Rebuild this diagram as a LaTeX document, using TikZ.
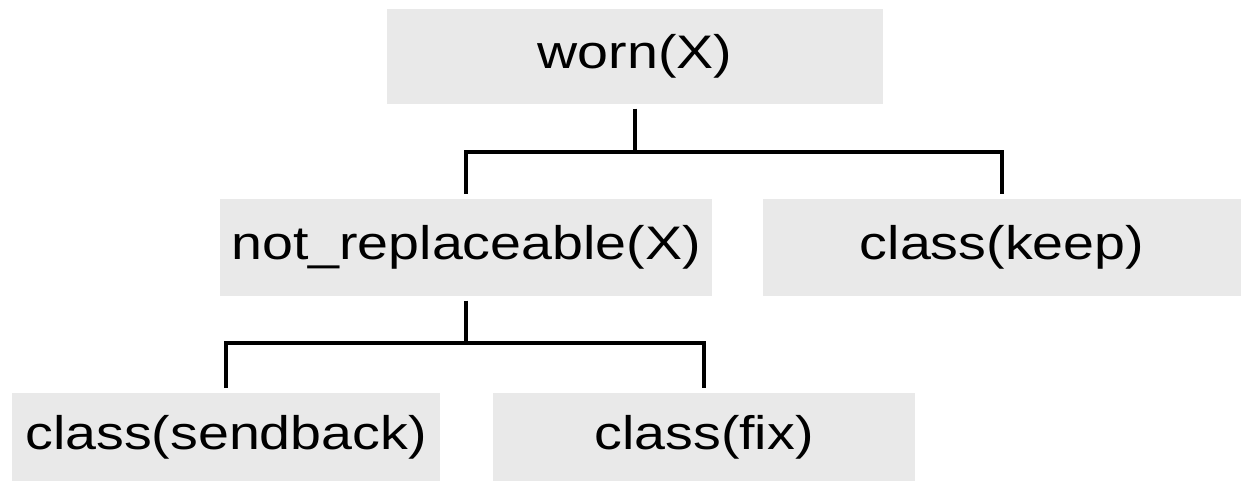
\documentclass[tikz,border=0pt]{standalone}
\usepackage{fontspec}
\usepackage{tikz}
\usetikzlibrary{positioning}
\newfontfamily\boxfont[FakeStretch=1.18]{Liberation Sans}
\definecolor{boxgray}{RGB}{233,233,233}

\begin{document}
\begin{tikzpicture}[x=0.1mm, y=-0.1mm,
		box/.style={rectangle, fill=boxgray, inner sep=0pt, outer sep=0.5mm,
			font=\boxfont\fontsize{13.4pt}{16pt}\selectfont},
		branch/.style={line width=0.9pt, black}]
		\useasboundingbox (0,0) rectangle (1241,481);

		\node (worn) [box, minimum width=49.6mm, minimum height=9.5mm] at (635,56) {worn(X)};
		\node (notrep) [box, minimum width=49.2mm, minimum height=9.7mm] at (466,247) {not\_replaceable(X)};
		\node (keep) [box, minimum width=47.8mm, minimum height=9.7mm] at (1002,247) {class(keep)};
		\node (sendback) [box, minimum width=42.8mm, minimum height=8.8mm] at (226,437) {class(sendback)};
		\node (fix) [box, minimum width=42.2mm, minimum height=8.8mm] at (704,437) {class(fix)};

		\coordinate (split1) at (635,152);
		\coordinate (split2) at (466,343);

		\draw[branch] (worn) -- (split1);
		\draw[branch] (notrep.north) |- (split1) -| (keep.north);
		\draw[branch] (notrep) -- (split2);
		\draw[branch] (sendback.north) |- (split2) -| (fix.north);

	\end{tikzpicture}
\end{document}
